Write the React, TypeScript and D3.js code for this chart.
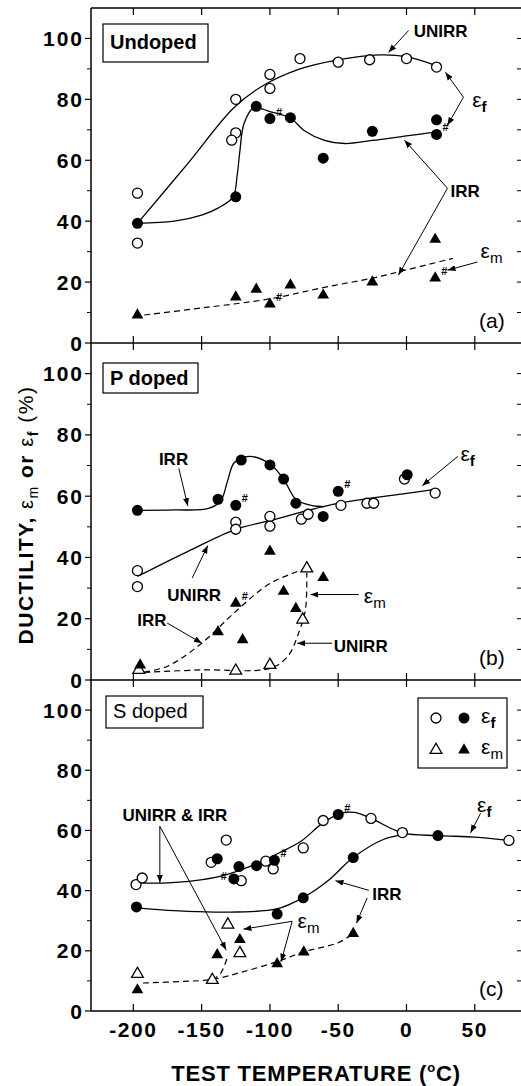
import React from "react";
import * as d3 from "d3";

type Pt = [number, number];

const SANS = "'Liberation Sans', Arial, Helvetica, sans-serif";

// axis ticks
const tempTicks = [-200, -150, -100, -50, 0, 50];
const ductTicks = [0, 20, 40, 60, 80, 100];
const ductMinor = [10, 30, 50, 70, 90];

// ---------- (a) Undoped ----------
const aUnirrF: Pt[] = [[-197, 49.2], [-197, 32.8], [-125, 80], [-125, 69], [-128, 66.6], [-100, 88.2], [-100, 83.6], [-78, 93.4], [-50, 92.2], [-27, 93], [0, 93.4], [22, 90.6]];
const aIrrF: Pt[] = [[-197, 39.3], [-125, 48], [-110, 77.7], [-100, 73.7], [-85, 74], [-61, 60.7], [-25, 69.5], [22, 73.3], [22, 68.5]];
const aIrrM: Pt[] = [[-197, 9.2], [-125, 15.1], [-110, 17.6], [-100, 12.8], [-85, 19], [-61, 15.7], [-25, 20], [21, 34], [21, 21.3]];
const aHash: Pt[] = [[-100, 73.7], [22, 68.5], [-100, 12.8], [21, 21.3]];
const aFitUnirrF: Pt[] = [[-197, 39.3], [-160, 59], [-127, 77], [-107, 84], [-78, 90], [-50, 93], [-20, 94.6], [0, 94], [22, 91]];
const aFitIrrF: Pt[] = [[-197, 39.3], [-170, 40], [-150, 42], [-138, 44.3], [-127, 48], [-124, 55], [-122, 63], [-119, 72], [-112, 77.2], [-100, 76], [-85, 73.8], [-75, 69.8], [-60, 66.5], [-45, 65.5], [-25, 66.5], [0, 68], [22, 69.3]];
const aFitIrrM: Pt[] = [[-192, 9.2], [-150, 11.5], [-100, 14.5], [-61, 18.2], [-25, 21.3], [0, 24], [34, 27.8]];
const aWords: [string, number, number][] = [["UNIRR", 5.3, 100.4], ["IRR", 32.2, 47.9]];
const aEps: [string, number, number][] = [["f", 48.1, 77.5], ["m", 54.2, 27.8]];
const aArrows: [Pt, Pt][] = [
  [[1.5, 102.6], [-13.2, 95.4]],
  [[41.7, 80.7], [28.5, 88.9]],
  [[41.7, 80.7], [30, 71.5]],
  [[30, 50.8], [-1.5, 66.6]],
  [[30, 50.8], [-5.9, 22.3]],
  [[52, 26.6], [30, 23.9]],
];

// ---------- (b) P doped ----------
const bUnirrF: Pt[] = [[-197, 35.7], [-197, 30.5], [-125, 51.5], [-125, 49.2], [-100, 53.4], [-100, 50.2], [-77, 52.5], [-72, 54.1], [-48, 57], [-29, 57.7], [-24, 57.7], [-1.5, 65.6], [21, 61]];
const bIrrF: Pt[] = [[-197, 55.4], [-138, 59], [-125, 57], [-121, 71.8], [-100, 70.2], [-90, 65.6], [-81, 57.7], [-61, 53.4], [-50, 61.6], [0.5, 67]];
const bUnirrM: Pt[] = [[-196, 3.3], [-125, 3], [-100, 4.9], [-76, 19.7], [-73, 36.4]];
const bIrrM: Pt[] = [[-195, 4.9], [-138, 15.7], [-125, 25], [-120, 13.1], [-100, 42], [-90, 28.9], [-81, 23.3], [-61, 33.4]];
const bHash: Pt[] = [[-125, 57], [-50, 61.6], [-125, 25]];
const bFitIrrF: Pt[] = [[-197, 55.4], [-170, 55.5], [-145, 56], [-136, 58.5], [-131, 65], [-126, 71], [-115, 73], [-100, 70.5], [-90, 65.6], [-81, 59], [-70, 57], [-60, 56.6]];
const bFitUnirrF: Pt[] = [[-197, 33.8], [-160, 42], [-125, 49.2], [-100, 52], [-53, 57.4], [0, 60.9], [22, 62.3]];
const bFitIrrM: Pt[] = [[-192, 2.6], [-175, 4.5], [-150, 12], [-126, 22], [-100, 31.5], [-76, 36]];
const bFitUnirrM: Pt[] = [[-192, 2.5], [-150, 3.3], [-100, 3.8], [-87, 7.7], [-79, 15.3], [-74, 23], [-73, 35]];
const bWords: [string, number, number][] = [["IRR", -181.3, 70.2], ["UNIRR", -175.2, 25.7], ["IRR", -197.2, 17.5], ["UNIRR", -53.2, 9.3]];
const bEps: [string, number, number][] = [["m", -31.3, 25.1], ["f", 39.5, 71.6]];
const bArrows: [Pt, Pt][] = [
  [[-166.7, 69.1], [-160.1, 56.8]],
  [[-156.9, 33.3], [-145.5, 43.9]],
  [[-175.2, 18.6], [-149.8, 12]],
  [[-34.9, 27.9], [-70.3, 27.9]],
  [[-54.4, 12], [-80, 12]],
  [[37.6, 73], [11.5, 63.4]],
];

// ---------- (c) S doped ----------
const cUnirrF: Pt[] = [[-198, 42], [-193.5, 44.2], [-143, 49.4], [-132, 56.8], [-121, 43.3], [-103, 49.8], [-97.6, 47.2], [-75.6, 54.2], [-61, 63.3], [-26, 64], [-3, 59.3], [75, 56.7]];
const cIrrF: Pt[] = [[-197.7, 34.6], [-138.6, 50.6], [-126.4, 43.9], [-122.7, 48], [-109.8, 48.3], [-96.7, 50.1], [-94.7, 32.2], [-75.6, 37.6], [-50, 65.3], [-39, 51], [23, 58.3]];
const cUnirrM: Pt[] = [[-197, 12.3], [-142.2, 10.3], [-130.8, 28.7], [-122, 19.2]];
const cIrrM: Pt[] = [[-197, 7], [-138.6, 18.7], [-122, 23.7], [-94.7, 15.7], [-75.2, 19.6], [-39, 25.7]];
const cHashL: Pt[] = [[-126.4, 43.9]];
const cHash: Pt[] = [[-96.7, 50.1], [-50, 65.3]];
const cFitF: Pt[] = [[-193, 42.5], [-175, 42.6], [-155, 43.3], [-136, 44.8], [-115, 48], [-93, 52.6], [-77, 56.5], [-61, 62.6], [-48, 65.7], [-38, 66], [-26, 64], [-3, 59.2], [23, 58.3], [50, 57.8], [75, 56.7]];
const cFitIrrF: Pt[] = [[-195, 34.2], [-160, 33.1], [-124, 32.9], [-95, 33.9], [-76, 37.6], [-58, 43.1], [-39, 51], [-17, 57], [-3, 58.5]];
const cFitM: Pt[] = [[-193, 9.3], [-165, 9.8], [-142, 10.5], [-120, 13], [-94, 16.5], [-75, 19.7], [-50, 22.7], [-39, 25.7]];
const cFitM2: Pt[] = [[-142, 10.3], [-136, 12.6], [-131, 18]];
const cWords: [string, number, number][] = [["UNIRR & IRR", -208, 63], ["IRR", -25.1, 37]];
const cEps: [string, number, number][] = [["m", -79.8, 27.7], ["f", 51.7, 66.1]];
const cArrows: [Pt, Pt][] = [
  [[-180.6, 61.4], [-180.6, 42.6]],
  [[-180.6, 61.4], [-132, 20.3]],
  [[-83.7, 29.8], [-119.4, 27.2]],
  [[-83.7, 29.8], [-91.8, 16.4]],
  [[-27.6, 40.1], [-52, 43.3]],
  [[-28.8, 37.6], [-36.6, 29.2]],
  [[54.2, 65.7], [46.9, 59.2]],
];

const LEFT = 91;
const RIGHT = 523;
const x = d3.scaleLinear().domain([-231, 84.2]).range([LEFT, 521.5]);

const panels = [
  {
    id: "a", top: 8, bottom: 343, name: "Undoped", nameWeight: "bold", box: [103, 24, 105, 38], nameBase: 49,
    tag: "(a)", solid: [aFitUnirrF, aFitIrrF], dashed: [aFitIrrM],
    openC: aUnirrF, fillC: aIrrF, openT: [] as Pt[], fillT: aIrrM, hashR: aHash, hashL: [] as Pt[],
    words: aWords, eps: aEps, arrows: aArrows,
  },
  {
    id: "b", top: 343, bottom: 680, name: "P doped", nameWeight: "bold", box: [103, 363, 95, 30], nameBase: 385,
    tag: "(b)", solid: [bFitIrrF, bFitUnirrF], dashed: [bFitIrrM, bFitUnirrM],
    openC: bUnirrF, fillC: bIrrF, openT: bUnirrM, fillT: bIrrM, hashR: bHash, hashL: [] as Pt[],
    words: bWords, eps: bEps, arrows: bArrows,
  },
  {
    id: "c", top: 680, bottom: 1011, name: "S doped", nameWeight: "normal", box: [106, 696, 97, 32], nameBase: 718,
    tag: "(c)", solid: [cFitF, cFitIrrF], dashed: [cFitM, cFitM2],
    openC: cUnirrF, fillC: cIrrF, openT: cUnirrM, fillT: cIrrM, hashR: cHash, hashL: cHashL,
    words: cWords, eps: cEps, arrows: cArrows,
  },
];

const tri = d3.symbol(d3.symbolTriangle, 60)() as string;

function Eps({ sub, px, py, size = 21 }: { sub: string; px: number; py: number; size?: number }) {
  return (
    <text x={px} y={py} fontFamily={SANS} fontSize={size}>
      ε
      <tspan fontSize={size * 0.72} fontWeight={sub === "f" ? "bold" : "normal"} dy={5}>{sub}</tspan>
    </text>
  );
}

function Panel({ p }: { p: typeof panels[number] }) {
  const y = d3.scaleLinear().domain([0, 110]).range([p.bottom, p.top]);
  const line = d3.line<Pt>().x(d => x(d[0])).y(d => y(d[1])).curve(d3.curveCatmullRom.alpha(0.5));
  const allTen = d3.range(10, 110, 10);
  return (
    <g>
      {tempTicks.map(t => (
        <line key={"tt" + t} x1={x(t)} x2={x(t)} y1={p.top - (p.id === "a" ? 0 : 7)} y2={p.top + 7} stroke="#000" strokeWidth={1.2} />
      ))}
      {ductTicks.map(v => (
        <line key={"lt" + v} x1={LEFT - 6} x2={LEFT} y1={y(v)} y2={y(v)} stroke="#000" strokeWidth={1.2} />
      ))}
      {ductMinor.map(v => (
        <line key={"lm" + v} x1={LEFT - 4} x2={LEFT} y1={y(v)} y2={y(v)} stroke="#000" strokeWidth={1} />
      ))}
      {allTen.map(v => (
        <line key={"rt" + v} x1={RIGHT - 6} x2={RIGHT} y1={y(v)} y2={y(v)} stroke="#000" strokeWidth={1} />
      ))}
      {ductTicks.map(v => (
        <text key={"yl" + v} x={84} y={y(v)} dy="0.36em" textAnchor="end" fontFamily={SANS} fontWeight="bold" fontSize={21} letterSpacing={2}>{v}</text>
      ))}

      {p.solid.map((d, i) => (
        <path key={"s" + i} d={line(d) as string} fill="none" stroke="#000" strokeWidth={1.3} />
      ))}
      {p.dashed.map((d, i) => (
        <path key={"d" + i} d={line(d) as string} fill="none" stroke="#000" strokeWidth={1.2} strokeDasharray="6,4" />
      ))}

      {p.arrows.map((a, i) => (
        <line key={"a" + i} x1={x(a[0][0])} y1={y(a[0][1])} x2={x(a[1][0])} y2={y(a[1][1])} stroke="#000" strokeWidth={1} markerEnd="url(#arr)" />
      ))}

      {p.openC.map((d, i) => (
        <circle key={"oc" + i} cx={x(d[0])} cy={y(d[1])} r={5} fill="#fff" stroke="#000" strokeWidth={1.3} />
      ))}
      {p.fillC.map((d, i) => (
        <circle key={"fc" + i} cx={x(d[0])} cy={y(d[1])} r={5.5} fill="#000" />
      ))}
      {p.openT.map((d, i) => (
        <path key={"ot" + i} d={tri} transform={`translate(${x(d[0])},${y(d[1])})`} fill="#fff" stroke="#000" strokeWidth={1.3} />
      ))}
      {p.fillT.map((d, i) => (
        <path key={"ft" + i} d={tri} transform={`translate(${x(d[0])},${y(d[1])})`} fill="#000" />
      ))}
      {p.hashR.map((d, i) => (
        <text key={"hr" + i} x={x(d[0]) + 6} y={y(d[1]) - 3} fontFamily={SANS} fontWeight="bold" fontSize={11}>#</text>
      ))}
      {p.hashL.map((d, i) => (
        <text key={"hl" + i} x={x(d[0]) - 7} y={y(d[1]) + 1} textAnchor="end" fontFamily={SANS} fontWeight="bold" fontSize={11}>#</text>
      ))}

      {p.words.map((w, i) => (
        <text key={"w" + i} x={x(w[1])} y={y(w[2])} fontFamily={SANS} fontWeight="bold" fontSize={17}>{w[0]}</text>
      ))}
      {p.eps.map((e, i) => (
        <Eps key={"e" + i} sub={e[0]} px={x(e[1])} py={y(e[2])} />
      ))}
      <text x={479} y={p.bottom - 15} fontFamily={SANS} fontSize={21}>{p.tag}</text>

      <rect x={p.box[0]} y={p.box[1]} width={p.box[2]} height={p.box[3]} fill="#fff" stroke="#000" strokeWidth={1.2} />
      <text x={p.box[0] + 7} y={p.nameBase} fontFamily={SANS} fontWeight={p.nameWeight} fontSize={20}>{p.name}</text>
    </g>
  );
}

export default function App() {
  const bottom = 1011;
  return (
    <svg width={521} height={1086} style={{ position: "absolute", left: 0, top: 0, background: "#fff" }}>
      <defs>
        <marker id="arr" viewBox="0 0 10 10" refX={10} refY={5} markerWidth={8} markerHeight={8} markerUnits="userSpaceOnUse" orient="auto">
          <path d="M0,1.2 L10,5 L0,8.8 z" fill="#000" />
        </marker>
      </defs>
      <rect x={0} y={0} width={521} height={1086} fill="#fff" />

      {panels.map(p => <Panel key={p.id} p={p} />)}

      <line x1={LEFT} x2={LEFT} y1={8} y2={bottom} stroke="#000" strokeWidth={1.5} />
      <line x1={RIGHT} x2={RIGHT} y1={8} y2={bottom} stroke="#000" strokeWidth={1.5} />
      {[8, 343, 680, bottom].map(v => (
        <line key={"h" + v} x1={LEFT} x2={RIGHT} y1={v} y2={v} stroke="#000" strokeWidth={1.5} />
      ))}
      {tempTicks.map(t => (
        <line key={"bt" + t} x1={x(t)} x2={x(t)} y1={bottom - 7} y2={bottom} stroke="#000" strokeWidth={1.2} />
      ))}
      {tempTicks.map(t => (
        <text key={"xl" + t} x={x(t)} y={1037} textAnchor="middle" fontFamily={SANS} fontWeight="bold" fontSize={21} letterSpacing={1.5}>{t}</text>
      ))}

      {/* legend */}
      <rect x={418} y={698} width={89} height={70} fill="#fff" stroke="#000" strokeWidth={1.2} />
      <circle cx={436} cy={718} r={5} fill="#fff" stroke="#000" strokeWidth={1.3} />
      <circle cx={464} cy={718} r={5.5} fill="#000" />
      <Eps sub="f" px={481} py={723} />
      <path d={tri} transform="translate(436,750)" fill="#fff" stroke="#000" strokeWidth={1.3} />
      <path d={tri} transform="translate(464,750)" fill="#000" />
      <Eps sub="m" px={481} py={754} />

      <text x={316} y={1081} textAnchor="middle" fontFamily={SANS} fontWeight="bold" fontSize={22} letterSpacing={0.8}>
        TEST TEMPERATURE  (<tspan fontSize={13} dy={-9}>o</tspan><tspan dy={9}>C)</tspan>
      </text>
      <text transform="translate(33,515) rotate(-90)" textAnchor="middle" fontFamily={SANS} fontWeight="bold" fontSize={21} letterSpacing={1.5}>
        DUCTILITY,{"  "}
        <tspan fontWeight="normal" fontSize={20}>ε</tspan>
        <tspan fontWeight="normal" fontSize={14} dy={5}>m</tspan>
        <tspan dy={-5}> or </tspan>
        <tspan fontWeight="normal" fontSize={20}>ε</tspan>
        <tspan fontSize={14} dy={5}>f</tspan>
        <tspan dy={-5} fontWeight="normal"> (%)</tspan>
      </text>
    </svg>
  );
}
